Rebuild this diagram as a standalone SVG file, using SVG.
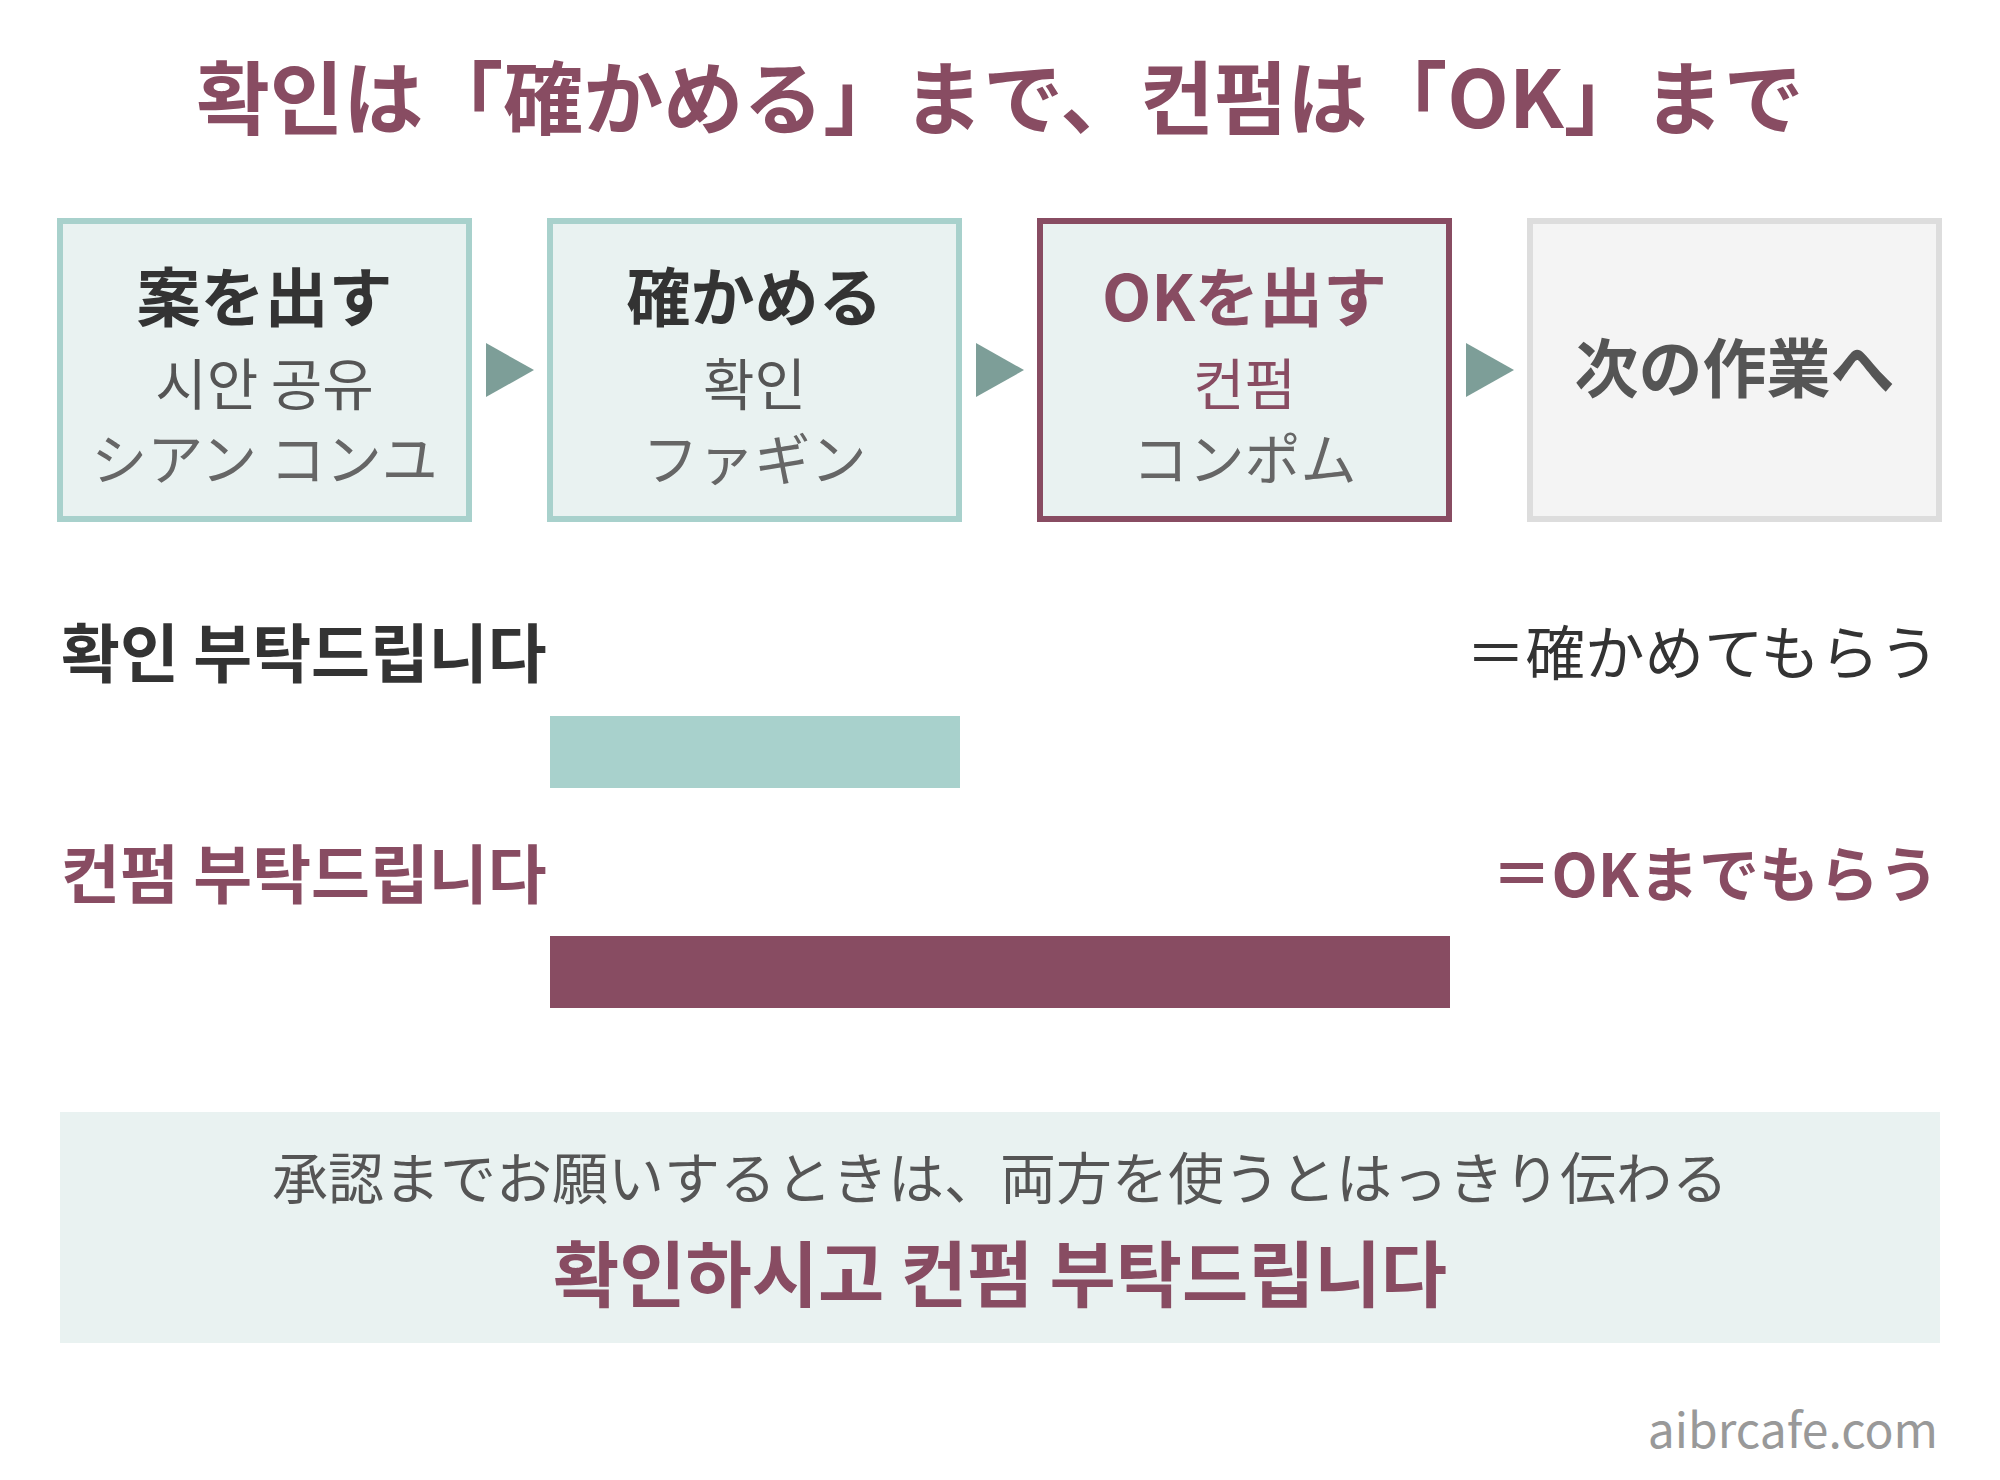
<svg xmlns="http://www.w3.org/2000/svg" width="2000" height="1480" viewBox="0 0 2000 1480">
<style>
text{font-family:"Noto Sans CJK JP","Noto Sans CJK KR",sans-serif;}
.b{font-weight:700;}
.mid{text-anchor:middle;}
.end{text-anchor:end;}
.mar{fill:#884c62;}
.dk{fill:#333333;}
.gy{fill:#555555;}
.gy2{fill:#666666;}
.box{fill:#e9f2f1;stroke:#a8d1cc;stroke-width:6;}
.arrow{fill:#7d9e98;}
.h{font-size:64px;}
.s{font-size:56px;}
</style>
<rect width="2000" height="1480" fill="#ffffff"/>
<text id="title" x="1000" y="128" class="b mid mar" font-size="80">확인は「確かめる」まで、컨펌は「OK」まで</text>

<g id="node1">
<rect class="box" x="60" y="221" width="409" height="298"/>
<text x="264.5" y="321" class="b mid dk h">案を出す</text>
<text x="264.5" y="405" class="mid gy s">시안 공유</text>
<text x="264.5" y="480" class="mid gy2 s">シアン コンユ</text>
</g>
<g id="node2">
<rect class="box" x="550" y="221" width="409" height="298"/>
<text x="754.5" y="321" class="b mid dk h">確かめる</text>
<text x="754.5" y="405" class="mid gy s">확인</text>
<text x="754.5" y="480" class="mid gy2 s">ファギン</text>
</g>
<g id="node3">
<rect class="box" x="1040" y="221" width="409" height="298" style="stroke:#884c62"/>
<text x="1244.5" y="321" class="b mid mar h">OKを出す</text>
<text x="1244.5" y="405" class="mid mar s">컨펌</text>
<text x="1244.5" y="480" class="mid gy2 s">コンポム</text>
</g>
<g id="node4">
<rect x="1530" y="221" width="409" height="298" fill="#f4f4f4" stroke="#dddddd" stroke-width="6"/>
<text x="1734.5" y="392" class="b mid gy h">次の作業へ</text>
</g>

<g id="connectors">
<polygon class="arrow" points="486,343 534,370 486,397"/>
<polygon class="arrow" points="976,343 1024,370 976,397"/>
<polygon class="arrow" points="1466,343 1514,370 1466,397"/>
</g>

<g id="row1">
<text x="61" y="677" class="b dk" font-size="64">확인 부탁드립니다</text>
<text x="1939" y="675" class="end dk" font-size="59.5">＝確かめてもらう</text>
<rect x="550" y="716" width="410" height="72" fill="#a8d1cc"/>
</g>
<g id="row2">
<text x="61" y="898" class="b mar" font-size="64">컨펌 부탁드립니다</text>
<text x="1939" y="897" class="b end mar" font-size="60">＝OKまでもらう</text>
<rect x="550" y="936" width="900" height="72" fill="#884c62"/>
</g>

<g id="summary">
<rect x="60" y="1112" width="1880" height="231" fill="#e9f2f1"/>
<text x="1000" y="1199" class="mid gy" font-size="56">承認までお願いするときは、両方を使うとはっきり伝わる</text>
<text x="1000" y="1301" class="b mid mar" font-size="72">확인하시고 컨펌 부탁드립니다</text>
</g>

<text id="credit" x="1938" y="1448" class="end" font-size="48" fill="#999999">aibrcafe.com</text>
</svg>
